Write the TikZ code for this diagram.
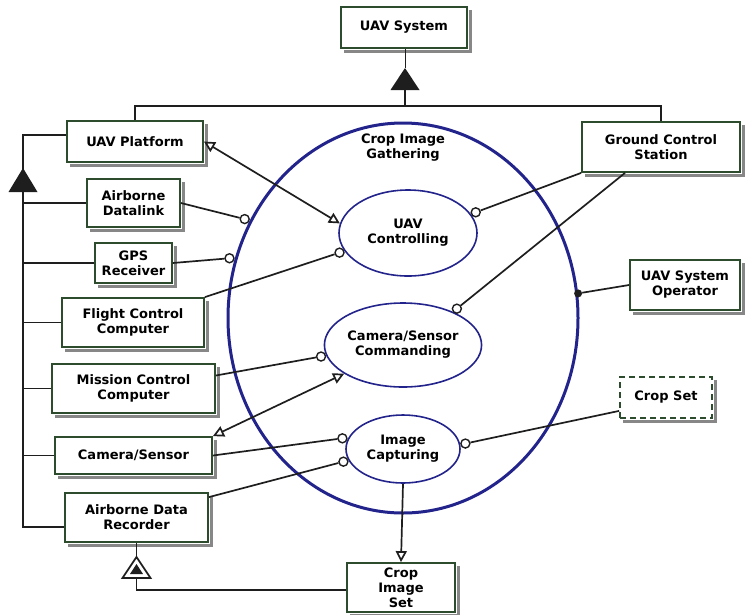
\documentclass[tikz,border=0pt]{standalone}
\usepackage{fontspec}
\setmainfont{DejaVu Sans}
\usetikzlibrary{shapes.geometric, arrows.meta, calc}
\definecolor{boxgreen}{RGB}{45,75,45}
\definecolor{procblue}{RGB}{35,35,140}
\definecolor{linec}{RGB}{30,30,30}
\definecolor{shadowgray}{RGB}{135,135,135}
\begin{document}
\begin{tikzpicture}[x=1pt,y=-1pt,
 font=\bfseries\fontsize{13}{15}\selectfont,
 >={Triangle[open, length=11pt, width=11pt]},
 obj/.style={draw=boxgreen, line width=1.8pt, fill=white, align=center, inner sep=0pt},
 proc/.style={ellipse, draw=procblue, line width=1.6pt, fill=white, align=center, inner sep=0pt},
 conn/.style={draw=linec, line width=1.7pt},
 lolli/.style={circle, draw=linec, fill=white, line width=1.4pt, minimum size=9pt, inner sep=0pt},
 agentdot/.style={circle, fill=linec, minimum size=8pt, inner sep=0pt},
]
\useasboundingbox (0,0) rectangle (751,614);

% big process
\node[ellipse, draw=procblue, line width=3pt, inner sep=0pt, minimum width=350pt, minimum height=390pt,
  label={[align=center, anchor=north, yshift=-9pt]north:Crop Image\\Gathering}] (cig) at (403,318) {};

% objects
\node[obj, minimum width=126pt, minimum height=41pt] (sys) at (404,27.5) {UAV System};
\node[obj, minimum width=136pt, minimum height=41pt] (plat) at (135,141.5) {UAV Platform};
\node[obj, minimum width=93pt, minimum height=48pt] (dlink) at (133.5,203) {Airborne\\Datalink};
\node[obj, minimum width=77pt, minimum height=40pt] (gps) at (133.5,263) {GPS\\Receiver};
\node[obj, minimum width=142pt, minimum height=49pt] (fcc) at (133,322.5) {Flight Control\\Computer};
\node[obj, minimum width=163pt, minimum height=49pt] (mcc) at (133.5,388.5) {Mission Control\\Computer};
\node[obj, minimum width=157pt, minimum height=37pt] (cam) at (133.5,455.5) {Camera/Sensor};
\node[obj, minimum width=143pt, minimum height=49pt] (adr) at (136.5,517.5) {Airborne Data\\Recorder};
\node[obj, minimum width=108pt, minimum height=49pt] (cis) at (401,587.5) {Crop\\Image\\Set};
\node[obj, minimum width=158pt, minimum height=50pt] (gcs) at (661,147) {Ground Control\\Station};
\node[obj, minimum width=110pt, minimum height=50pt] (op) at (685,285) {UAV System\\Operator};
\node[obj, dash pattern=on 6pt off 4pt, minimum width=92pt, minimum height=41pt] (cset) at (666,397.5) {Crop Set};

% shadows (strips right and below each object)
\foreach \n in {sys,plat,dlink,gps,fcc,mcc,cam,adr,cis,gcs,op,cset}{
  \fill[shadowgray] ($(\n.south west)+(4,1)$) rectangle ($(\n.south east)+(4.5,4.5)$);
  \fill[shadowgray] ($(\n.north east)+(1,4)$) rectangle ($(\n.south east)+(4.5,4.5)$);
}

% inner processes
\node[proc, minimum width=138pt, minimum height=86pt] (uc) at (408,233) {UAV\\Controlling};
\node[proc, minimum width=140pt, minimum height=84pt] (csc) at (403,345) {Camera/Sensor\\Commanding};
\node[proc, minimum width=114pt, minimum height=68pt] (ic) at (403,449) {Image\\Capturing};

% top aggregation
\coordinate (tA) at (405,68);
\coordinate (tAb) at (405,90);
\coordinate (hb) at (405,106);
\draw[linec, line width=0.8pt] (sys.south -| tA) -- (tA);
\fill[linec] (tA) -- ++(14.5,22) -- ++(-29,0) -- cycle;
\draw[conn] (tAb) -- (hb);
\draw[conn] (plat.north) -- (plat.north |- hb) -- (gcs.north |- hb) -- (gcs.north);

% left aggregation
\coordinate (lt) at (23,135);
\coordinate (lb) at (23,527);
\coordinate (lA) at (23,168);
\draw[conn] ([yshift=6.5pt]plat.west) -- (lt) -- (lb) -- ([yshift=-9.5pt]adr.west);
\foreach \n in {dlink,gps,fcc,mcc,cam} \draw[conn] (\n.west) -- (\n.west -| lt);
\fill[linec] (lA) -- ++(14.5,24) -- ++(-29,0) -- cycle;

% exhibition
\coordinate (xt) at (136.5,557);
\coordinate (xb) at (136.5,578);
\draw[linec, line width=0.8pt] (adr.south) -- (xt);
\draw[conn, fill=white, line join=miter] (xt) -- ++(14,21) -- ++(-28,0) -- cycle;
\fill[linec] (136.5,564) -- ++(6.5,10) -- ++(-13,0) -- cycle;
\draw[conn] (xb) |- ([yshift=-2.5pt]cis.west);

% procedural links with arrows
\draw[conn, <->] (plat.east) -- (uc.172);
\draw[conn, <->] (cam.north east) -- (csc.206);
\draw[conn, ->] (ic.south) -- (cis.north);

% instrument links
\node[lolli, anchor=328] (l1) at (cig.148) {};
\node[lolli, anchor=341] (l2) at (cig.161) {};
\node[lolli, anchor=16] (l3) at (uc.196) {};
\node[lolli, anchor=197] (l4) at (uc.17) {};
\node[lolli, anchor=214] (l5) at (csc.34) {};
\node[lolli, anchor=8] (l6) at (csc.188) {};
\node[lolli, anchor=350] (l7) at (ic.170) {};
\node[lolli, anchor=12] (l8) at (ic.192) {};
\node[lolli, anchor=185] (l9) at (ic.5) {};
\node[agentdot] (ag) at (cig.8) {};

\draw[conn] (dlink.east) -- (l1);
\draw[conn] (gps.east) -- (l2);
\draw[conn] (fcc.north east) -- (l3);
\draw[conn] (gcs.south west) -- (l4);
\draw[conn] ([xshift=-36pt]gcs.south) -- (l5);
\draw[conn] ([yshift=13pt]mcc.east) -- (l6);
\draw[conn] (cam.east) -- (l7);
\draw[conn] ([yshift=-5pt]adr.north east) -- (l8);
\draw[conn] ([yshift=8pt]cset.south west) -- (l9);
\draw[conn] (op.west) -- (ag);
\end{tikzpicture}
\end{document}
